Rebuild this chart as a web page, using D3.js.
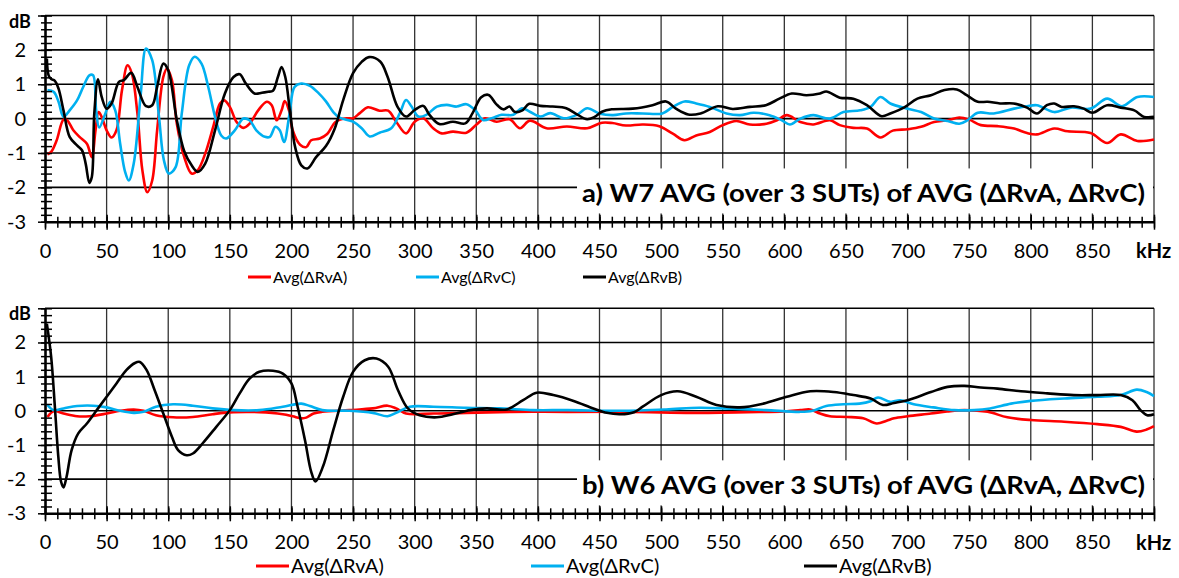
<!DOCTYPE html>
<html>
<head>
<meta charset="utf-8">
<script src="https://cdn.jsdelivr.net/npm/d3@7"></script>
<style>
body { margin: 0; background: #fff; }
text { font-family: Lato, "Open Sans", sans-serif; fill: #000; }
</style>
</head>
<body>
<div id="chart"></div>
<script>
//////////////////////////////////////////////////////////////////////////////
// Data (kHz, dB)

var seriesNames = ["Avg(\u0394RvA)", "Avg(\u0394RvC)", "Avg(\u0394RvB)"];
var seriesColors = ["#ff0000", "#00b0f0", "#000000"];
var xLabels = d3.range(0, 851, 50);
var yLabels = [-3, -2, -1, 0, 1, 2];
var titles = ["a) W7 AVG (over 3 SUTs) of AVG (\u0394RvA, \u0394RvC)",
              "b) W6 AVG (over 3 SUTs) of AVG (\u0394RvA, \u0394RvC)"];

var w7RvA = [[2,-1.04],[5,-0.97],[9.5,-0.63],[15,-0.03],[18,-0.05],[23,-0.34],[28,-0.53],[34,-0.73],[38,-1.12],[41,-0.34],[43.5,0.19],[46,0.05],[50,-0.34],[54,-0.55],[58,-0.34],[62.5,0.83],[67,1.55],[70.5,1.31],[75,0.15],[79,-1.5],[83,-2.14],[87,-1.8],[91,-0.34],[96,1.21],[99,1.46],[103,1.12],[107,-0.15],[113,-1.12],[119,-1.6],[124,-1.5],[130,-1.02],[136.5,-0.24],[142,0.44],[145.5,0.53],[150,0.34],[155.5,-0.1],[161,-0.27],[166,-0.15],[173,0.24],[180,0.49],[184,0.39],[188,-0.05],[192,0.24],[194.5,0.51],[198,0.24],[201,-0.34],[207,-0.76],[212,-0.83],[216,-0.63],[223,-0.58],[229,-0.45],[236,-0.09],[245,0.01],[250,0.01],[255.5,0.16],[262,0.33],[271.5,0.23],[278.5,0.23],[285,-0.09],[293,-0.43],[300,-0.09],[307,0.01],[315,-0.28],[322,-0.43],[331,-0.38],[342,-0.41],[350,-0.18],[357,0.01],[366.5,-0.09],[377,-0.02],[385.5,-0.28],[393.5,-0.06],[407,-0.28],[423.5,-0.23],[440,-0.28],[452,-0.12],[460.5,-0.13],[471.5,-0.2],[485,-0.17],[498.5,-0.22],[509.5,-0.44],[519,-0.63],[528.5,-0.49],[539.5,-0.39],[550,-0.19],[561,-0.07],[572,-0.17],[585.5,-0.15],[594,-0.05],[602,0.1],[613,-0.1],[623.5,-0.17],[637,-0.05],[645,-0.19],[656,-0.27],[667,-0.29],[678,-0.55],[688,-0.35],[700,-0.31],[711,-0.24],[721.5,-0.1],[732.5,-0.05],[742,0.03],[750,-0.03],[759.5,-0.19],[773,-0.22],[786.5,-0.29],[797,-0.42],[805,-0.46],[819,-0.29],[830,-0.37],[848.5,-0.42],[862,-0.71],[873,-0.46],[886.5,-0.65],[900,-0.61]];

var w7RvC = [[2,0.83],[7,0.78],[11,0.49],[15,0.05],[20,0.24],[26,0.53],[31,0.92],[36,1.26],[39,1.26],[41.5,0.24],[44,-0.26],[49,0.15],[53,0.49],[57,0.24],[61,-0.73],[65,-1.55],[68,-1.8],[72,-1.31],[77.5,0.63],[82,2.04],[87,1.7],[92.5,0.05],[96.5,-1.21],[100.5,-1.6],[106,-1.41],[111,0.15],[117,1.55],[121.5,1.8],[127,1.6],[132.5,0.92],[138,0.05],[143,-0.49],[147,-0.58],[154,-0.34],[161,0],[166,-0.05],[171.5,-0.34],[178.5,-0.53],[182.5,-0.53],[187,-0.24],[190.5,-0.34],[194,-0.68],[198.5,0.15],[202.5,0.92],[208,1.02],[215,0.95],[222,0.74],[228,0.5],[234,0.19],[239,0.03],[250,-0.09],[257,-0.28],[263.5,-0.52],[271.5,-0.41],[281,-0.28],[288,0.16],[293,0.54],[297.5,0.35],[303,0.06],[309.5,0.11],[318,0.35],[326,0.4],[334,0.35],[342,0.42],[349,0.25],[355.5,-0.04],[362.5,0.01],[370.5,0.11],[380,0.11],[387,0.3],[393.5,0.2],[402,0.06],[410,0.16],[421,0.01],[431.5,0.11],[440,0.3],[450.5,0.14],[461,0.1],[471.5,0.15],[485,0.15],[501,0.15],[509.5,0.34],[519,0.5],[528.5,0.44],[539.5,0.34],[553,0.15],[564,0.1],[575,0.17],[588,0.1],[598,-0.05],[604.5,-0.17],[613,0],[623.5,0.1],[637,0],[648,0.19],[661.5,0.24],[670,0.34],[678,0.63],[686,0.44],[700,0.29],[711,0.19],[721.5,0],[732.5,-0.07],[742,-0.15],[748.5,-0.05],[757,0.17],[770,0.15],[786.5,0.29],[797,0.36],[805,0.39],[819,0.19],[832.5,0.32],[848.5,0.29],[862,0.58],[874,0.36],[886.5,0.63],[900,0.63]];

var w7RvB = [[1.5,1.75],[3,1.25],[5,1.15],[8,1.1],[11,0.87],[15,0.24],[20,-0.53],[26,-0.78],[30,-0.92],[33,-1.31],[36,-1.87],[38,-1.7],[40,0.15],[43,1.14],[46,0.63],[50,0.29],[54,0.44],[60,1.07],[64,1.12],[70,1.33],[75,0.92],[82,0.36],[87,0.39],[91,0.92],[96,1.6],[100,1.41],[107,-0.05],[113,-0.95],[119,-1.36],[124,-1.55],[130,-1.31],[138,-0.34],[146,0.73],[153,1.21],[158,1.29],[163,1.02],[170,0.73],[176,0.75],[181,0.78],[185,0.81],[189,1.21],[192,1.5],[195,1.21],[199,0.15],[203,-0.83],[208,-1.36],[213,-1.45],[220,-1.12],[228,-0.8],[235,-0.3],[242,0.54],[250,1.32],[257,1.65],[263,1.79],[272,1.66],[278,1.22],[286,0.35],[293,0.06],[300,0.25],[307,0.37],[312,0.11],[320,-0.16],[331,-0.09],[341,-0.14],[347,0.16],[354,0.62],[360,0.69],[366,0.43],[372,0.27],[377,0.35],[381,0.2],[387,0.23],[393,0.43],[402,0.37],[412,0.35],[423,0.3],[431,0.14],[440,-0.02],[446,0.05],[452,0.2],[460,0.27],[477,0.29],[493,0.39],[504,0.5],[512,0.29],[522,0.12],[532,0.15],[546,0.36],[558,0.28],[572,0.34],[585,0.39],[596,0.58],[606,0.73],[618,0.68],[629,0.73],[634,0.79],[645,0.61],[656,0.58],[667,0.39],[679,0.07],[686,0.15],[697,0.32],[708,0.58],[719,0.68],[730,0.83],[740,0.85],[748,0.68],[757,0.49],[765,0.49],[775,0.44],[786,0.44],[797,0.32],[805,0.15],[813,0.39],[819,0.44],[825,0.34],[835,0.36],[843,0.29],[850,0.17],[862,0.39],[873,0.32],[884,0.24],[892,0.05],[900,0.05]];

var w6RvA = [[2,-0.18],[7,-0.01],[15,-0.08],[26,-0.16],[36,-0.16],[50,-0.08],[61,0],[72,0.04],[80,0],[90,-0.13],[104,-0.19],[120,-0.18],[136,-0.1],[153,-0.04],[174,-0.04],[193,-0.1],[201,-0.16],[208,-0.22],[212,-0.2],[218,-0.08],[225,-0.03],[247,0.02],[266,0.07],[278,0.15],[285,0.07],[293,-0.08],[315,-0.08],[342,-0.06],[369,-0.04],[396,-0.03],[424,-0.03],[467,-0.03],[520,-0.06],[570,-0.04],[600,-0.02],[613,0.02],[621,0.04],[629,-0.08],[637,-0.16],[651,-0.18],[664,-0.22],[675,-0.37],[683,-0.29],[689,-0.22],[700,-0.16],[719,-0.08],[732,-0.02],[746,0.02],[765,-0.03],[781,-0.19],[800,-0.27],[827,-0.32],[854,-0.39],[873,-0.47],[886,-0.61],[894,-0.55],[900,-0.45]];

var w6RvC = [[2,0.17],[7,0.02],[15,0.07],[26,0.14],[39,0.15],[50,0.1],[61,0],[72,-0.06],[80,-0.03],[90,0.12],[104,0.19],[120,0.15],[136,0.07],[153,0.02],[174,0.02],[193,0.12],[208,0.21],[215,0.14],[225,0.02],[247,0],[266,-0.06],[278,-0.16],[285,-0.06],[296,0.12],[315,0.12],[342,0.09],[369,0.07],[396,0.02],[424,0.02],[467,0],[504,0.04],[531,0.09],[558,0.06],[585,0.02],[613,-0.03],[623,0],[634,0.14],[648,0.19],[661,0.21],[670,0.28],[676,0.39],[686,0.26],[694,0.31],[705,0.19],[721,0.1],[738,0.02],[754,0.02],[767,0.07],[784,0.21],[800,0.29],[827,0.36],[854,0.41],[873,0.46],[886,0.62],[894,0.55],[900,0.43]];

var w6RvB = [[1.5,2.55],[5,1.58],[8,0.12],[10.8,-1.34],[13,-2.07],[15,-2.24],[17.5,-1.93],[21.6,-1.15],[27,-0.66],[34,-0.37],[42,0.02],[50,0.41],[58,0.8],[66,1.19],[73,1.4],[77,1.43],[82.5,1.19],[89,0.6],[96,-0.08],[103,-0.76],[108,-1.15],[115,-1.3],[120,-1.25],[128,-0.95],[139,-0.47],[150,0.02],[158,0.51],[166,0.94],[174,1.14],[185,1.17],[193,1.09],[200,0.8],[205,0.12],[211,-0.86],[216,-1.78],[219.5,-2.07],[225.5,-1.64],[234,-0.56],[242,0.41],[250,1.14],[259.5,1.48],[269,1.53],[278.5,1.29],[286.5,0.6],[294.5,0.07],[304,-0.13],[318,-0.19],[331,-0.1],[345,0.02],[358.5,0.07],[374.5,0.04],[388,0.31],[399,0.53],[412.5,0.46],[429,0.29],[445,0.07],[456,-0.06],[467,-0.1],[478,-0.04],[485,0.12],[500,0.46],[513.5,0.57],[528.5,0.41],[545,0.17],[564,0.1],[583,0.21],[602,0.41],[621,0.57],[640,0.55],[656,0.46],[670,0.36],[680,0.17],[689,0.23],[700,0.31],[719,0.55],[732.5,0.7],[746,0.73],[759.5,0.68],[773,0.65],[792,0.57],[813.5,0.51],[835,0.46],[854,0.46],[873,0.46],[882.5,0.31],[889,0.02],[894.5,-0.13],[900,-0.1]];

//////////////////////////////////////////////////////////////////////////////
// Layout

var width = 1179, height = 578;
var xScale = d3.scaleLinear().domain([0, 900]).range([45, 1154]);

var panels = [
    { top: 15.5, bottom: 221.7, data: [w7RvA, w7RvC, w7RvB], title: titles[0],
      legendY: 277, legendFont: 16, legendLine: 23, legendX: [248, 416, 583] },
    { top: 308.3, bottom: 513.3, data: [w6RvA, w6RvC, w6RvB], title: titles[1],
      legendY: 566, legendFont: 20, legendLine: 33, legendX: [256, 531, 804] }
];

var svg = d3.select("#chart").append("svg")
    .attr("width", width)
    .attr("height", height);

function hideDomain(sel) { sel.select(".domain").remove(); }

function drawPanel(p) {
    var y = d3.scaleLinear().domain([-3, 3]).range([p.bottom, p.top]);
    var g = svg.append("g");

    // grid
    g.append("g").selectAll("line").data(d3.range(50, 901, 50)).enter().append("line")
        .attr("x1", xScale).attr("x2", xScale)
        .attr("y1", y(3)).attr("y2", y(-3))
        .attr("stroke", "#333").attr("stroke-width", 1.3);
    g.append("g").selectAll("line").data(d3.range(-2, 4)).enter().append("line")
        .attr("x1", xScale(0)).attr("x2", xScale(900))
        .attr("y1", y).attr("y2", y)
        .attr("stroke", "#000").attr("stroke-width", 1.6);

    // series
    var line = d3.line()
        .x(function(d) { return xScale(d[0]); })
        .y(function(d) { return y(d[1]); })
        .curve(d3.curveCatmullRom.alpha(0.5));
    g.append("g").selectAll("path").data(p.data).enter().append("path")
        .attr("d", line)
        .attr("fill", "none")
        .attr("stroke", function(d, i) { return seriesColors[i]; })
        .attr("stroke-width", 2.6)
        .attr("stroke-linejoin", "round");

    // title box
    g.append("rect")
        .attr("x", 577).attr("y", y(-1.45))
        .attr("width", xScale(900) - 577 - 1).attr("height", 45)
        .attr("fill", "#fff");
    g.append("text")
        .attr("x", 582).attr("y", y(-2.44))
        .attr("font-size", 25).attr("font-weight", "bold")
        .attr("textLength", 563).attr("lengthAdjust", "spacingAndGlyphs")
        .text(p.title);

    // x axis: ticks crossing the line
    var xb = y(-3);
    var minorX = d3.range(0, 901, 10);
    g.append("g").attr("transform", "translate(0," + xb + ")")
        .call(d3.axisBottom(xScale).tickValues(minorX).tickSize(6).tickFormat(""))
        .call(hideDomain);
    g.append("g").attr("transform", "translate(0," + xb + ")")
        .call(d3.axisTop(xScale).tickValues(minorX).tickSize(5).tickFormat(""))
        .call(hideDomain);
    g.append("g").attr("transform", "translate(0," + xb + ")")
        .call(d3.axisBottom(xScale).tickValues(d3.range(0, 901, 50)).tickSize(8).tickFormat(""))
        .call(hideDomain);
    g.append("g").attr("transform", "translate(0," + xb + ")")
        .call(d3.axisTop(xScale).tickValues(d3.range(0, 901, 50)).tickSize(7).tickFormat(""))
        .call(hideDomain);
    var xl = g.append("g").attr("transform", "translate(0," + xb + ")")
        .call(d3.axisBottom(xScale).tickValues(xLabels).tickSize(0).tickPadding(22)
            .tickFormat(function(d) { return String(d); }));
    xl.select(".domain").attr("stroke-width", 2.6);
    xl.selectAll("text").attr("font-size", 20).attr("font-family", "Lato, sans-serif");

    // y axis
    var minorY = d3.range(-30, 31, 2).map(function(v) { return v / 10; });
    g.append("g").attr("transform", "translate(" + xScale(0) + ",0)")
        .call(d3.axisLeft(y).tickValues(minorY).tickSize(4).tickFormat(""))
        .call(hideDomain);
    g.append("g").attr("transform", "translate(" + xScale(0) + ",0)")
        .call(d3.axisRight(y).tickValues(minorY).tickSize(7).tickFormat(""))
        .call(hideDomain);
    g.append("g").attr("transform", "translate(" + xScale(0) + ",0)")
        .call(d3.axisLeft(y).tickValues(yLabels.concat([3])).tickSize(7).tickFormat(""))
        .call(hideDomain);
    var yl = g.append("g").attr("transform", "translate(" + xScale(0) + ",0)")
        .call(d3.axisLeft(y).tickValues(yLabels).tickSize(0).tickPadding(19)
            .tickFormat(function(d) { return String(d); }));
    yl.select(".domain").attr("stroke-width", 2.6);
    yl.selectAll("text").attr("font-size", 20).attr("font-family", "Lato, sans-serif");
    g.selectAll(".tick line").attr("stroke-width", 1.5);

    // unit labels
    g.append("text").attr("x", 9).attr("y", p.top + 12)
        .attr("font-size", 18).attr("font-weight", "bold").text("dB");
    g.append("text").attr("x", 1136).attr("y", xb + 36.5)
        .attr("font-size", 20).attr("font-weight", "bold").text("kHz");

    // legend
    var lg = g.append("g").selectAll("g").data(seriesNames).enter().append("g")
        .attr("transform", function(d, i) { return "translate(" + p.legendX[i] + "," + p.legendY + ")"; });
    lg.append("line")
        .attr("x1", 0).attr("x2", p.legendLine)
        .attr("stroke", function(d, i) { return seriesColors[i]; })
        .attr("stroke-width", 3);
    lg.append("text")
        .attr("x", p.legendLine + 2).attr("dy", "0.35em")
        .attr("font-size", p.legendFont)
        .text(function(d) { return d; });
}

panels.forEach(drawPanel);
</script>
</body>
</html>
